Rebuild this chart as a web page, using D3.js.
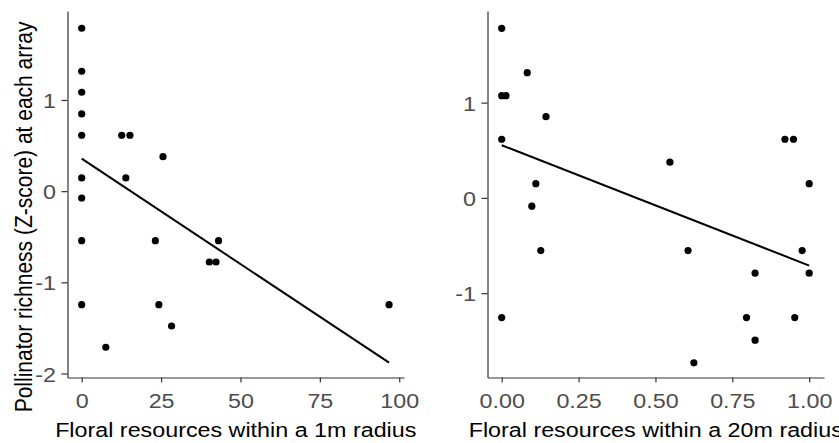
<!DOCTYPE html>
<html>
<head>
<meta charset="utf-8">
<title>Pollinator richness vs floral resources</title>
<script src="https://cdn.jsdelivr.net/npm/d3@7"></script>
<style>
  body { margin: 0; background: #fff; }
  svg text { font-family: "Liberation Sans", Arial, sans-serif; }
  .axis path, .axis line { stroke: #333; stroke-width: 1.2; }
  .axis text { fill: #4d4d4d; font-size: 21px; }
  .title { fill: #000; font-size: 21px; }
</style>
</head>
<body>
<script>
//////// data ////////
// left panel: floral resources within 1m
var x1m = [0, 0, 0, 0, 0, 12.6, 15.2, 25.6, 0, 13.9, 0, 0, 23.2, 43.1, 40.2, 42.3, 0, 24.3, 96.8, 28.3, 7.6];
var y1m = [1.787, 1.315, 1.085, 0.847, 0.613, 0.613, 0.613, 0.378, 0.145, 0.145, -0.075, -0.543, -0.543, -0.543,
           -0.777, -0.777, -1.245, -1.245, -1.245, -1.479, -1.712];
var fit1mX = [0, 96.8];
var fit1mY = [0.356, -1.881];

// right panel: floral resources within 20m
var x20m = [0, 0.083, 0, 0.014, 0.144, 0, 0.921, 0.949, 0.547, 0.111, 1.0, 0.098, 0.127, 0.606, 0.977,
            0.824, 1.0, 0, 0.796, 0.953, 0.824, 0.625];
var y20m = [1.78, 1.315, 1.073, 1.073, 0.853, 0.616, 0.616, 0.616, 0.375, 0.150, 0.150, -0.087, -0.553, -0.553, -0.553,
            -0.790, -0.790, -1.256, -1.256, -1.256, -1.493, -1.731];
var fit20mX = [0, 1.0];
var fit20mY = [0.553, -0.710];

var ticks1mX = [0, 25, 50, 75, 100];
var ticks20mX = [0, 0.25, 0.5, 0.75, 1];
var ticksY = [-2, -1, 0, 1];
var ticksY20 = [-1, 0, 1];

var yTitle = "Pollinator richness (Z-score) at each array";

var W = 839, H = 443;
var stretch = 1.11; // glyphs in the picture are a bit wider than tall

var svg = d3.select("body").append("svg")
    .attr("width", W)
    .attr("height", H);

// plain hyphen minus like the original, not d3's unicode minus
var intFormat = function(d) { return String(d); };
var fix2Format = function(d) { return d.toFixed(2); };

////// one panel /////
function panel(o) {
  var xScale = d3.scaleLinear().domain(o.xDomain).range([o.left, o.right]);
  var yScale = d3.scaleLinear().domain(o.yDomain).range([o.bottom, o.top]);

  var xAxis = d3.axisBottom(xScale)
      .tickValues(o.xTicks)
      .tickFormat(o.xFormat)
      .tickSize(5)
      .tickSizeOuter(0)
      .tickPadding(10.5);

  var yAxis = d3.axisLeft(yScale)
      .tickValues(o.yTicks)
      .tickFormat(intFormat)
      .tickSize(6)
      .tickSizeOuter(0)
      .tickPadding(4.4);

  var gx = svg.append("g").attr("class", "axis")
      .attr("transform", "translate(0," + o.bottom + ")")
      .call(xAxis);
  var gy = svg.append("g").attr("class", "axis")
      .attr("transform", "translate(" + o.left + ",0)")
      .call(yAxis);

  gx.selectAll("text").attr("transform", "scale(" + stretch + ",1)");
  gy.selectAll("text").attr("transform", "scale(" + stretch + ",1)").attr("dy", "0.36em");

  // fitted line
  var line = d3.line()
      .x(function(d) { return xScale(d[0]); })
      .y(function(d) { return yScale(d[1]); });
  svg.append("path")
      .datum(d3.zip(o.fitX, o.fitY))
      .attr("d", line)
      .attr("fill", "none")
      .attr("stroke", "#000")
      .attr("stroke-width", 2);

  // points
  svg.append("g").selectAll("circle")
      .data(d3.zip(o.xs, o.ys))
      .enter()
      .append("circle")
      .attr("cx", function(d) { return xScale(d[0]); })
      .attr("cy", function(d) { return yScale(d[1]); })
      .attr("r", 3.6)
      .attr("fill", "#000");

  // x title
  svg.append("text")
      .attr("class", "title")
      .attr("text-anchor", "middle")
      .attr("transform", "translate(" + (o.left + o.right) / 2 + ",436.5) scale(" + stretch + ",1)")
      .text(o.xTitle);
}

panel({
  left: 67.5, right: 404, top: 11, bottom: 377.5,
  xDomain: [-4.47, 101.5], yDomain: [-2.044, 1.976],
  xTicks: ticks1mX, yTicks: ticksY, xFormat: intFormat,
  xs: x1m, ys: y1m, fitX: fit1mX, fitY: fit1mY,
  xTitle: "Floral resources within a 1m radius"
});

panel({
  left: 487.5, right: 824, top: 11, bottom: 377.5,
  xDomain: [-0.0462, 1.0481], yDomain: [-1.885, 1.962],
  xTicks: ticks20mX, yTicks: ticksY20, xFormat: fix2Format,
  xs: x20m, ys: y20m, fitX: fit20mX, fitY: fit20mY,
  xTitle: "Floral resources within a 20m radius"
});

// y title, left side only
svg.append("text")
    .attr("class", "title")
    .attr("text-anchor", "middle")
    .attr("transform", "translate(31.5,217) scale(" + stretch + ",1) rotate(-90)")
    .text(yTitle);
</script>
</body>
</html>
